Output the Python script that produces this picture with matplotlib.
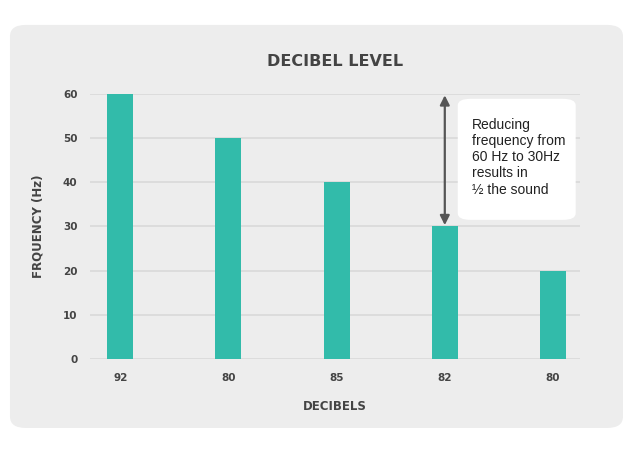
import matplotlib.pyplot as plt
from matplotlib.patches import FancyBboxPatch

# data
decibels = ['92', '80', '85', '82', '80']
frequency = [60, 50, 40, 30, 20]
yticks = [0, 10, 20, 30, 40, 50, 60]
note = 'Reducing\nfrequency from\n60 Hz to 30Hz\nresults in\n\u00bd the sound'

bar_color = '#32bbaa'
text_color = '#444444'
panel_color = '#ededed'
heavy = 'DejaVu Sans'

plt.rcParams['font.family'] = ['Liberation Sans', 'DejaVu Sans']

fig = plt.figure(figsize=(6.35, 4.57), dpi=100)
fig.patch.set_facecolor('white')

# rounded grey panel behind the chart
panel = FancyBboxPatch((0.0157, 0.0635), 0.9654, 0.882,
                       boxstyle='round,pad=0,rounding_size=0.025',
                       transform=fig.transFigure, facecolor=panel_color,
                       edgecolor='none', zorder=-1)
fig.patches.append(panel)

ax = fig.add_axes([0.1417, 0.2144, 0.7717, 0.58])
ax.set_facecolor('none')

x = range(len(decibels))
ax.bar(x, frequency, width=0.24, color=bar_color, zorder=3)

ax.set_xlim(-0.28, 4.25)
ax.set_ylim(0, 60)
ax.set_yticks(yticks)
ax.set_xticks(list(x))
ax.set_xticklabels(decibels)
ax.grid(axis='y', color='#d8d8d8', linewidth=1.1, zorder=0)
ax.tick_params(length=0, labelsize=7.5, labelcolor=text_color)
ax.tick_params(axis='y', pad=9)
ax.tick_params(axis='x', pad=10)
for lab in ax.get_xticklabels() + ax.get_yticklabels():
    lab.set_fontweight('bold')
    lab.set_family(heavy)
for s in ax.spines.values():
    s.set_visible(False)

ax.set_title('DECIBEL LEVEL', fontsize=11.5, fontweight='bold', family=heavy,
             color=text_color, pad=20)
ax.set_xlabel('DECIBELS', fontsize=8.5, fontweight='bold', family=heavy,
              color=text_color, labelpad=12)
ax.set_ylabel('FRQUENCY (Hz)', fontsize=8.5, fontweight='bold', family=heavy,
              color=text_color, labelpad=13)

# double arrow from 60 down to 30 over the fourth bar
ax.annotate('', xy=(3, 30.3), xytext=(3, 59.7),
            arrowprops=dict(arrowstyle='<|-|>', color='#555555',
                            linewidth=1.6, mutation_scale=14,
                            shrinkA=0, shrinkB=0), zorder=5)

# callout box
box = FancyBboxPatch((3.12, 31.5), 1.09, 27.4,
                     boxstyle='round,pad=0,rounding_size=0.12',
                     mutation_aspect=12, facecolor='white',
                     edgecolor='none', zorder=4)
ax.add_patch(box)
ax.text(3.25, 54.6, note, fontsize=10, color='#222222',
        va='top', ha='left', linespacing=1.2, zorder=6)

fig.savefig('out.png', dpi=100)
